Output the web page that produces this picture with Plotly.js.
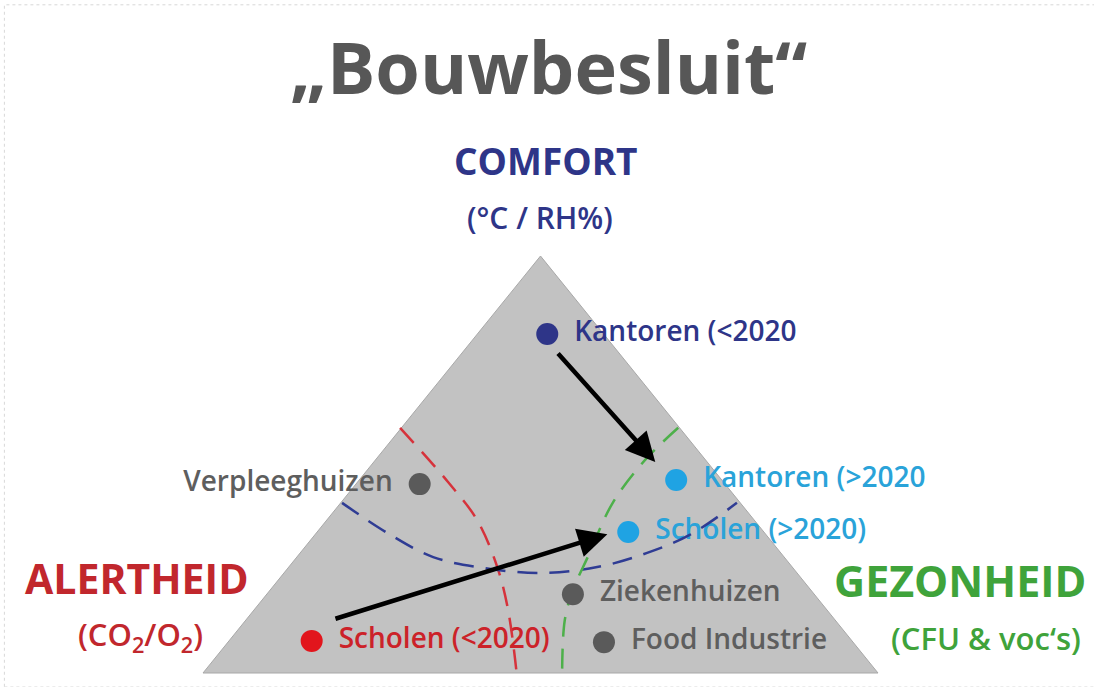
<!DOCTYPE html>
<html>
<head>
<meta charset="utf-8">
<script src="https://cdn.plot.ly/plotly-3.0.1.min.js"></script>
<style>
  html, body { margin: 0; padding: 0; background: #ffffff; }
  #chart { width: 1094px; height: 687px; }
</style>
</head>
<body>
<div id="chart"></div>
<script>
// ---- Data (diagram units: base-left corner = (0,0), base-right = (100,0), apex = (50,100)) ----
const triangleX = [0, 100, 50, 0];
const triangleY = [0, 0, 100, 0];

const pointNames = ['Kantoren (<2020', 'Kantoren (>2020', 'Scholen (>2020)', 'Verpleeghuizen', 'Ziekenhuizen', 'Food Industrie', 'Scholen (<2020)'];
const pointX = [51.0, 70.1, 63.0, 32.1, 54.8, 59.4, 16.1];
const pointY = [81.3, 46.3, 33.8, 45.3, 18.9, 7.4, 7.7];

// dashed boundary curves
const alertX = [29.2, 36.3, 40.6, 43.6, 45.2, 46.5];
const alertY = [58.8, 45.8, 36.7, 25.4, 15.1, -0.5];
const comfortX = [20.6, 27.3, 34.1, 41.5, 49.9, 58.4, 65.8, 72.1, 79.1];
const comfortY = [40.8, 33.6, 27.8, 25.2, 24.0, 25.4, 28.8, 33.1, 40.8];
const healthX = [70.4, 65.5, 60.7, 57.0, 54.8, 53.6, 53.2];
const healthY = [58.8, 51.1, 40.8, 27.8, 19.9, 12.7, -0.5];

// arrows (from -> to)
const arrowFromX = [52.4, 19.4];
const arrowFromY = [77.0, 12.9];
const arrowToX = [67.0, 59.9];
const arrowToY = [50.6, 33.3];

const titleText = '„Bouwbesluit“';
const cornerTitles = ['COMFORT', 'ALERTHEID', 'GEZONHEID'];
const cornerSubtitles = ['(°C / RH%)', '(CO<sub>2</sub>/O<sub>2</sub>)', '(CFU &amp; voc‘s)'];

// ---- Styles ----
const NAVY = '#2e3588', LIGHTBLUE = '#1fa3e3', RED = '#c1272d', DOTRED = '#e2151c', GREEN = '#3fa33b', GRAY = '#5a5a5a';
const dotColors = [NAVY, LIGHTBLUE, LIGHTBLUE, GRAY, GRAY, GRAY, DOTRED];
const labelColors = ['#2e3588', '#2aa3d9', '#2aa3d9', '#5e5e5e', '#5e5e5e', '#5e5e5e', '#cc2229'];
const labelLeft = [false, false, false, true, false, false, false];
const FONT = 'Open Sans, Noto Sans, sans-serif';

const W = 1094, H = 687;
// pixel scale of the diagram units
const pxX = 6.75, pxY = 4.17, baseLeftPx = 203, basePx = 673;
const xRange = [-baseLeftPx / pxX, (W - baseLeftPx) / pxX];
const yRange = [(basePx - H) / pxY, basePx / pxY];
const gapPx = 27;

const traces = [];
traces.push({
  x: triangleX, y: triangleY, mode: 'lines', fill: 'toself',
  fillcolor: '#c2c2c2', line: {color: '#a8a8a8', width: 1},
  hoverinfo: 'skip', showlegend: false
});

// labels (drawn below the dashed lines, like the reference)
const lx = pointX.map((v, i) => v + (labelLeft[i] ? -1 : 1) * gapPx / pxX);
traces.push({
  x: lx, y: pointY, mode: 'text', text: pointNames,
  textposition: labelLeft.map(l => l ? 'middle left' : 'middle right'),
  textfont: {family: FONT, size: 28, color: labelColors, weight: 600},
  hoverinfo: 'skip', showlegend: false
});

const dash = '20px,12px';
traces.push({x: alertX, y: alertY, mode: 'lines', line: {color: '#d6323b', width: 2.5, dash: dash, shape: 'spline'}, hoverinfo: 'skip', showlegend: false});
traces.push({x: comfortX, y: comfortY, mode: 'lines', line: {color: '#2f3c94', width: 2.5, dash: dash, shape: 'spline'}, hoverinfo: 'skip', showlegend: false});
traces.push({x: healthX, y: healthY, mode: 'lines', line: {color: '#4db04a', width: 2.5, dash: dash, shape: 'spline'}, hoverinfo: 'skip', showlegend: false});

traces.push({
  x: pointX, y: pointY, mode: 'markers',
  marker: {size: 22, color: dotColors, line: {width: 0}},
  hoverinfo: 'text', text: pointNames, showlegend: false
});

const annotations = [];
arrowToX.forEach((x, i) => {
  annotations.push({
    x: x, y: arrowToY[i], xref: 'x', yref: 'y',
    ax: arrowFromX[i], ay: arrowFromY[i], axref: 'x', ayref: 'y',
    text: '', showarrow: true, arrowhead: 2, arrowsize: 1.3, arrowwidth: 4.5, arrowcolor: '#000000'
  });
});

function pap(px, py) { return {x: px / W, y: 1 - py / H}; }
function addText(text, px, py, size, color, weight) {
  const p = pap(px, py);
  annotations.push({
    xref: 'paper', yref: 'paper', x: p.x, y: p.y, xanchor: 'center', yanchor: 'middle',
    text: text, showarrow: false,
    font: {family: FONT, size: size, color: color, weight: weight}
  });
}
addText(titleText, 548, 66, 72, '#575757', 700);
addText(cornerTitles[0], 546, 160, 37, NAVY, 700);
addText(cornerSubtitles[0], 540, 217, 30, NAVY, 600);
addText(cornerTitles[1], 136, 578, 41, RED, 700);
addText(cornerSubtitles[1], 140, 636, 31, RED, 600);
addText(cornerTitles[2], 960, 580, 43, GREEN, 700);
addText(cornerSubtitles[2], 986, 638, 31, GREEN, 600);

const layout = {
  width: W, height: H,
  margin: {l: 0, r: 0, t: 0, b: 0, pad: 0},
  paper_bgcolor: '#ffffff', plot_bgcolor: '#ffffff',
  xaxis: {range: xRange, visible: false, fixedrange: true},
  yaxis: {range: yRange, visible: false, fixedrange: true},
  showlegend: false,
  annotations: annotations,
  shapes: [{
    type: 'rect', xref: 'paper', yref: 'paper', x0: 0.004, y0: 0.0, x1: 1.2, y1: 0.993,
    line: {color: '#d8d8d8', width: 1, dash: 'dot'}, fillcolor: 'rgba(0,0,0,0)', layer: 'below'
  }]
};

Plotly.newPlot('chart', traces, layout, {displayModeBar: false, staticPlot: true});
</script>
</body>
</html>
